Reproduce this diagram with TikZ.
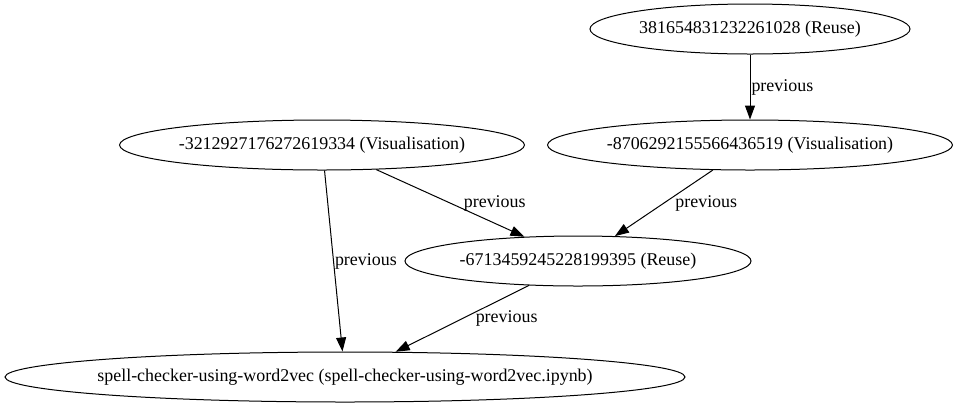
\documentclass[tikz,border=0pt]{standalone}
\usepackage{fontspec}
\setmainfont{Liberation Serif}
\usetikzlibrary{arrows.meta,shapes.geometric}

\begin{document}
\begin{tikzpicture}[
    x=1bp, y=-1bp,
    every node/.style={font=\fontsize{18}{21}\selectfont},
    cell/.style={draw, ellipse, line width=1bp, inner sep=0pt, minimum height=50bp},
    flow/.style={-{Triangle[length=14bp, width=10bp]}, line width=1bp},
    lbl/.style={anchor=west, inner sep=1bp}
]
\useasboundingbox (0,0) rectangle (958,407);
\node[cell, minimum width=320bp] (reuseTop) at (750,29) {381654831232261028 (Reuse)};
\node[cell, minimum width=404bp] (visA) at (322,145) {-3212927176272619334 (Visualisation)};
\node[cell, minimum width=404bp] (visB) at (750,145) {-8706292155566436519 (Visualisation)};
\node[cell, minimum width=346bp] (reuseMid) at (578,261) {-6713459245228199395 (Reuse)};
\node[cell, minimum width=680bp, inner xsep=-8bp] (notebook) at (345,377) {spell-checker-using-word2vec (spell-checker-using-word2vec.ipynb)};
\draw[flow] (reuseTop) -- node[lbl] {previous} (visB);
\draw[flow] (visA) -- node[lbl, xshift=12bp] {previous} (reuseMid);
\draw[flow] (visB) -- node[lbl, xshift=10bp] {previous} (reuseMid);
\draw[flow] (visA) -- node[lbl] {previous} (notebook);
\draw[flow] (reuseMid) -- node[lbl, xshift=12bp] {previous} (notebook);
\end{tikzpicture}
\end{document}
